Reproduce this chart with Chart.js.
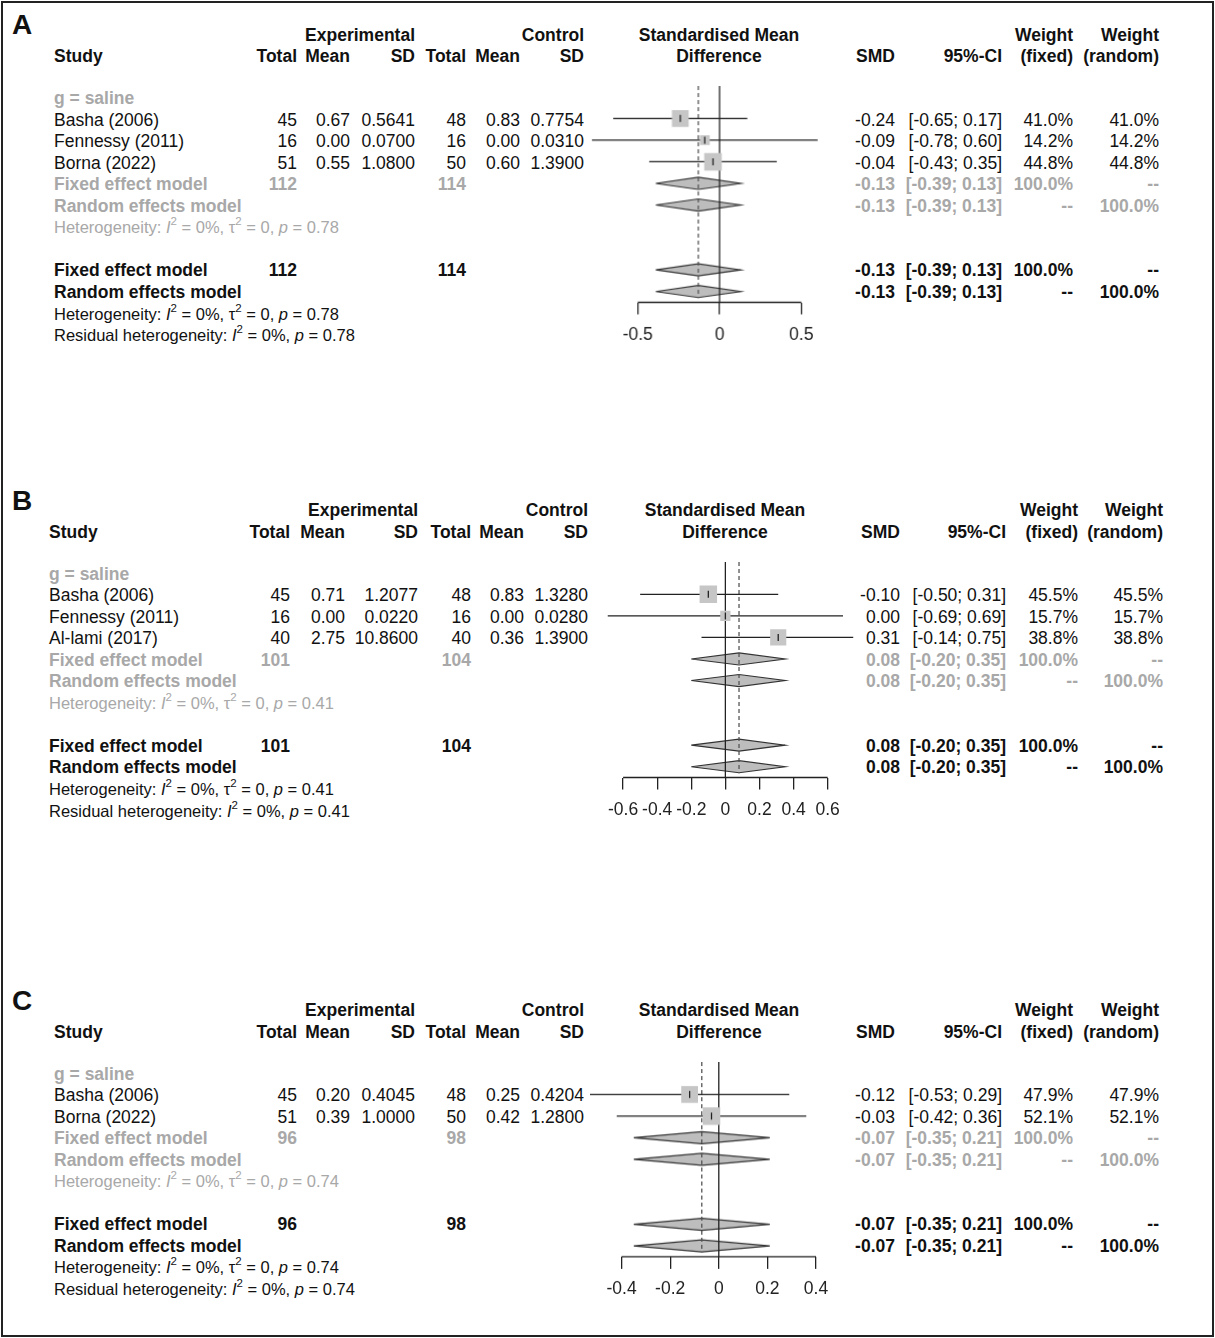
<!DOCTYPE html>
<html>
<head>
<meta charset="utf-8">
<script src="https://cdn.jsdelivr.net/npm/chart.js@4.4.1/dist/chart.umd.min.js"></script>
<style>
body { margin: 0; background: #fff; }
#page { position: relative; width: 1215px; height: 1338px; overflow: hidden;
        font-family: "Liberation Sans", Arial, sans-serif; font-size: 17.5px; color: #111; }
#frame { position: absolute; left: 1px; top: 1px; width: 1213px; height: 1336px;
         border: 2px solid #222; box-sizing: border-box; }
.t { position: absolute; white-space: nowrap; line-height: 22px; height: 22px; }
.b { font-weight: bold; }
.g { color: #a8a8a8; }
.h { font-size: 16.5px; }
.r { transform: translateX(-100%); }
.c { transform: translateX(-50%); }
sup { font-size: 11.5px; line-height: 0; vertical-align: 8px; }
.lbl { position: absolute; font-weight: bold; font-size: 28px; line-height: 32px; }
.plot { position: absolute; }
</style>
</head>
<body>
<div id="page"><div id="frame"></div></div>
<script>
// ---- Panel A ----
const studiesA = ['Basha (2006)', 'Fennessy (2011)', 'Borna (2022)'];
const expTotalA = [45, 16, 51];
const expMeanA = [0.67, 0.00, 0.55];
const expSdA = [0.5641, 0.0700, 1.0800];
const ctrlTotalA = [48, 16, 50];
const ctrlMeanA = [0.83, 0.00, 0.60];
const ctrlSdA = [0.7754, 0.0310, 1.3900];
const smdA = [-0.24, -0.09, -0.04];
const lowerA = [-0.65, -0.78, -0.43];
const upperA = [0.17, 0.60, 0.35];
const weightFixedA = [41.0, 14.2, 44.8];
const weightRandomA = [41.0, 14.2, 44.8];
const pooledFixedA = [-0.13, -0.39, 0.13];   // SMD, lower, upper
const pooledRandomA = [-0.13, -0.39, 0.13];
const totalsA = [112, 114];
const pValueA = '0.78';
const ticksA = [-0.5, 0, 0.5];

// ---- Panel B ----
const studiesB = ['Basha (2006)', 'Fennessy (2011)', 'Al-lami (2017)'];
const expTotalB = [45, 16, 40];
const expMeanB = [0.71, 0.00, 2.75];
const expSdB = [1.2077, 0.0220, 10.8600];
const ctrlTotalB = [48, 16, 40];
const ctrlMeanB = [0.83, 0.00, 0.36];
const ctrlSdB = [1.3280, 0.0280, 1.3900];
const smdB = [-0.10, 0.00, 0.31];
const lowerB = [-0.50, -0.69, -0.14];
const upperB = [0.31, 0.69, 0.75];
const weightFixedB = [45.5, 15.7, 38.8];
const weightRandomB = [45.5, 15.7, 38.8];
const pooledFixedB = [0.08, -0.20, 0.35];
const pooledRandomB = [0.08, -0.20, 0.35];
const totalsB = [101, 104];
const pValueB = '0.41';
const ticksB = [-0.6, -0.4, -0.2, 0, 0.2, 0.4, 0.6];

// ---- Panel C ----
const studiesC = ['Basha (2006)', 'Borna (2022)'];
const expTotalC = [45, 51];
const expMeanC = [0.20, 0.39];
const expSdC = [0.4045, 1.0000];
const ctrlTotalC = [48, 50];
const ctrlMeanC = [0.25, 0.42];
const ctrlSdC = [0.4204, 1.2800];
const smdC = [-0.12, -0.03];
const lowerC = [-0.53, -0.42];
const upperC = [0.29, 0.36];
const weightFixedC = [47.9, 52.1];
const weightRandomC = [47.9, 52.1];
const pooledFixedC = [-0.07, -0.35, 0.21];
const pooledRandomC = [-0.07, -0.35, 0.21];
const totalsC = [96, 98];
const pValueC = '0.74';
const ticksC = [-0.4, -0.2, 0, 0.2, 0.4];

const ROW_H = 21.55;
const AXIS_H = 46;
const page = document.getElementById('page');

// petit utilitaire pour poser un texte
function text(x, y, html, align, cls) {
    const d = document.createElement('div');
    d.className = 't ' + (align === 'r' ? 'r ' : align === 'c' ? 'c ' : '') + (cls || '');
    d.style.left = x + 'px';
    d.style.top = (y + 1 - 11) + 'px';
    d.innerHTML = html;
    page.appendChild(d);
}

const f2 = v => v.toFixed(2);
const ci = (lo, hi) => `[${f2(lo)}; ${f2(hi)}]`;
const pct = v => v.toFixed(1) + '%';

const axisLine = {
    id: 'axisLine',
    afterDraw(chart) {
        const sx = chart.scales.x;
        const t = sx.ticks;
        const y = chart.chartArea.bottom;
        const ctx = chart.ctx;
        ctx.save();
        ctx.strokeStyle = '#222';
        ctx.lineWidth = 1.3;
        ctx.beginPath();
        ctx.moveTo(sx.getPixelForValue(t[0].value), y);
        ctx.lineTo(sx.getPixelForValue(t[t.length - 1].value), y);
        ctx.stroke();
        ctx.restore();
    }
};

function drawPanel(d, L) {
    const n = d.studies.length;
    const rowY = i => L.row0 + i * ROW_H;
    const c = L.cols;

    const lbl = document.createElement('div');
    lbl.className = 'lbl';
    lbl.style.left = '12px';
    lbl.style.top = (L.row0 - 72 - 16) + 'px';
    lbl.textContent = L.letter;
    page.appendChild(lbl);

    // en-têtes
    const h1 = L.row0 - 63.5, h2 = L.row0 - 42;
    text(c.expSd, h1, 'Experimental', 'r', 'b');
    text(c.ctrlSd, h1, 'Control', 'r', 'b');
    text(c.plot, h1, 'Standardised Mean', 'c', 'b');
    text(c.wf, h1, 'Weight', 'r', 'b');
    text(c.wr, h1, 'Weight', 'r', 'b');
    text(c.study, h2, 'Study', 'l', 'b');
    text(c.expTotal, h2, 'Total', 'r', 'b');
    text(c.expMean, h2, 'Mean', 'r', 'b');
    text(c.expSd, h2, 'SD', 'r', 'b');
    text(c.ctrlTotal, h2, 'Total', 'r', 'b');
    text(c.ctrlMean, h2, 'Mean', 'r', 'b');
    text(c.ctrlSd, h2, 'SD', 'r', 'b');
    text(c.plot, h2, 'Difference', 'c', 'b');
    text(c.smd, h2, 'SMD', 'r', 'b');
    text(c.ci, h2, '95%-CI', 'r', 'b');
    text(c.wf, h2, '(fixed)', 'r', 'b');
    text(c.wr, h2, '(random)', 'r', 'b');

    text(c.study, rowY(0), 'g = saline', 'l', 'b g');
    d.studies.forEach((s, i) => {
        const y = rowY(i + 1);
        text(c.study, y, s, 'l');
        text(c.expTotal, y, d.expTotal[i], 'r');
        text(c.expMean, y, f2(d.expMean[i]), 'r');
        text(c.expSd, y, d.expSd[i].toFixed(4), 'r');
        text(c.ctrlTotal, y, d.ctrlTotal[i], 'r');
        text(c.ctrlMean, y, f2(d.ctrlMean[i]), 'r');
        text(c.ctrlSd, y, d.ctrlSd[i].toFixed(4), 'r');
        text(c.smd, y, f2(d.smd[i]), 'r');
        text(c.ci, y, ci(d.lower[i], d.upper[i]), 'r');
        text(c.wf, y, pct(d.wFixed[i]), 'r');
        text(c.wr, y, pct(d.wRandom[i]), 'r');
    });

    const het = `Heterogeneity: <i>I</i><sup>2</sup> = 0%, &tau;<sup>2</sup> = 0, <i>p</i> = ${d.p}`;
    const rows = [
        { r: n + 1, cls: 'b g', fixed: true },
        { r: n + 2, cls: 'b g', fixed: false },
        { r: n + 5, cls: 'b', fixed: true },
        { r: n + 6, cls: 'b', fixed: false }
    ];
    rows.forEach(row => {
        const y = rowY(row.r);
        const pool = row.fixed ? d.pooledFixed : d.pooledRandom;
        text(c.study, y, row.fixed ? 'Fixed effect model' : 'Random effects model', 'l', row.cls);
        if (row.fixed) {
            text(c.expTotal, y, d.totals[0], 'r', row.cls);
            text(c.ctrlTotal, y, d.totals[1], 'r', row.cls);
        }
        text(c.smd, y, f2(pool[0]), 'r', row.cls);
        text(c.ci, y, ci(pool[1], pool[2]), 'r', row.cls);
        text(c.wf, y, row.fixed ? '100.0%' : '--', 'r', row.cls);
        text(c.wr, y, row.fixed ? '--' : '100.0%', 'r', row.cls);
    });
    text(c.study, rowY(n + 3), het, 'l', 'g h');
    text(c.study, rowY(n + 7), het, 'l', 'h');
    text(c.study, rowY(n + 8), `Residual heterogeneity: <i>I</i><sup>2</sup> = 0%, <i>p</i> = ${d.p}`, 'l', 'h');

    // zone graphique
    const yMax = n + 6.5;
    const w = (L.xMax - L.xMin) * L.ppu;
    const h = (yMax + 0.5) * ROW_H + AXIS_H;
    const box = document.createElement('div');
    box.className = 'plot';
    box.style.left = (c.plot + L.xMin * L.ppu) + 'px';
    box.style.top = (L.row0 - ROW_H / 2) + 'px';
    box.style.width = w + 'px';
    box.style.height = h + 'px';
    const cv = document.createElement('canvas');
    box.appendChild(cv);
    page.appendChild(box);

    const DH = 6 / ROW_H;
    const maxW = Math.max(...d.wFixed);
    const datasets = [];
    // petits traits au centre des carrés
    datasets.push({
        data: d.smd.map((v, i) => ({ x: v, y: i + 1 })),
        pointStyle: 'line', pointRotation: 90, pointRadius: 3.5,
        borderColor: '#222', pointBorderWidth: 1.3, order: 0
    });
    // carrés pondérés
    datasets.push({
        data: d.smd.map((v, i) => ({ x: v, y: i + 1 })),
        pointStyle: 'rect', pointRotation: 0,
        pointRadius: d.wFixed.map(wt => 17.5 * Math.sqrt(wt / maxW) / Math.SQRT2),
        backgroundColor: '#c6c6c6', pointBorderWidth: 0, borderColor: 'rgba(0,0,0,0)', order: 1
    });
    // intervalles de confiance
    d.smd.forEach((v, i) => {
        datasets.push({
            data: [{ x: d.lower[i], y: i + 1 }, { x: d.upper[i], y: i + 1 }],
            showLine: true, borderColor: '#222', borderWidth: 1.3, pointRadius: 0, order: 2
        });
    });
    // lignes de référence
    datasets.push({
        data: [{ x: 0, y: -0.5 }, { x: 0, y: yMax }],
        showLine: true, borderColor: '#222', borderWidth: 1.3, pointRadius: 0, order: 3
    });
    datasets.push({
        data: [{ x: d.pooledFixed[0], y: -0.5 }, { x: d.pooledFixed[0], y: yMax - 0.2 }],
        showLine: true, borderColor: '#555', borderWidth: 1.3, borderDash: [4, 3], pointRadius: 0, order: 3
    });
    // losanges
    rows.forEach(row => {
        const p = row.fixed ? d.pooledFixed : d.pooledRandom;
        const r = row.r;
        datasets.push({
            data: [{ x: p[1], y: r }, { x: p[0], y: r - DH }, { x: p[2], y: r }, { x: p[0], y: r + DH }, { x: p[1], y: r }],
            showLine: true, fill: 'shape', backgroundColor: '#bdbdbd', borderColor: '#333',
            borderWidth: 1.2, pointRadius: 0, tension: 0, order: 4
        });
    });

    new Chart(cv, {
        type: 'scatter',
        data: { datasets: datasets },
        plugins: [axisLine],
        options: {
            responsive: true,
            maintainAspectRatio: false,
            animation: false,
            events: [],
            layout: { autoPadding: false, padding: 0 },
            plugins: { legend: { display: false }, tooltip: { enabled: false } },
            scales: {
                x: {
                    type: 'linear', min: L.xMin, max: L.xMax,
                    afterBuildTicks: ax => { ax.ticks = d.ticks.map(v => ({ value: v })); },
                    afterFit: ax => { ax.height = AXIS_H; },
                    grid: { drawOnChartArea: false, drawTicks: true, tickLength: 12, color: '#222', lineWidth: 1.3 },
                    border: { display: false },
                    ticks: {
                        autoSkip: false, maxRotation: 0, minRotation: 0, padding: 10, color: '#222',
                        font: { family: 'Liberation Sans', size: 17.5 },
                        callback: v => String(v)
                    }
                },
                y: { type: 'linear', display: false, min: -0.5, max: yMax, reverse: true }
            }
        }
    });
}

const colsAC = { study: 54, expTotal: 297, expMean: 350, expSd: 415, ctrlTotal: 466, ctrlMean: 520, ctrlSd: 584,
                 plot: 719, smd: 895, ci: 1002, wf: 1073, wr: 1159 };
const colsB = { study: 49, expTotal: 290, expMean: 345, expSd: 418, ctrlTotal: 471, ctrlMean: 524, ctrlSd: 588,
                plot: 725, smd: 900, ci: 1006, wf: 1078, wr: 1163 };

drawPanel({
    studies: studiesA, expTotal: expTotalA, expMean: expMeanA, expSd: expSdA,
    ctrlTotal: ctrlTotalA, ctrlMean: ctrlMeanA, ctrlSd: ctrlSdA,
    smd: smdA, lower: lowerA, upper: upperA, wFixed: weightFixedA, wRandom: weightRandomA,
    pooledFixed: pooledFixedA, pooledRandom: pooledRandomA, totals: totalsA, p: pValueA, ticks: ticksA
}, { letter: 'A', row0: 97, cols: colsAC, ppu: 163, xMin: -1, xMax: 0.9 });

drawPanel({
    studies: studiesB, expTotal: expTotalB, expMean: expMeanB, expSd: expSdB,
    ctrlTotal: ctrlTotalB, ctrlMean: ctrlMeanB, ctrlSd: ctrlSdB,
    smd: smdB, lower: lowerB, upper: upperB, wFixed: weightFixedB, wRandom: weightRandomB,
    pooledFixed: pooledFixedB, pooledRandom: pooledRandomB, totals: totalsB, p: pValueB, ticks: ticksB
}, { letter: 'B', row0: 572.5, cols: colsB, ppu: 170.5, xMin: -0.8, xMax: 0.9 });

drawPanel({
    studies: studiesC, expTotal: expTotalC, expMean: expMeanC, expSd: expSdC,
    ctrlTotal: ctrlTotalC, ctrlMean: ctrlMeanC, ctrlSd: ctrlSdC,
    smd: smdC, lower: lowerC, upper: upperC, wFixed: weightFixedC, wRandom: weightRandomC,
    pooledFixed: pooledFixedC, pooledRandom: pooledRandomC, totals: totalsC, p: pValueC, ticks: ticksC
}, { letter: 'C', row0: 1072.5, cols: colsAC, ppu: 243, xMin: -0.6, xMax: 0.5 });
</script>
</body>
</html>
